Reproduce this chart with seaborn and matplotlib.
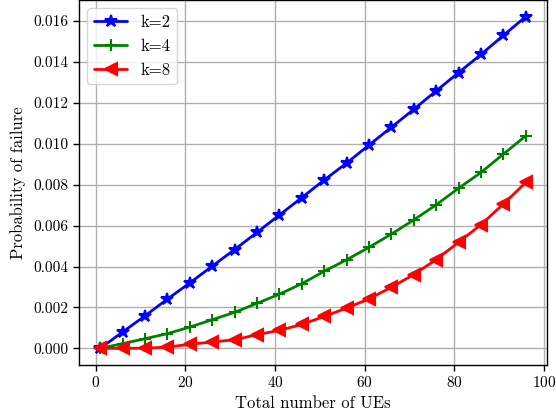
import numpy as np
import pandas as pd
import matplotlib
matplotlib.use("Agg")
import matplotlib.pyplot as plt
import seaborn as sns

ues = [1, 6, 11, 16, 21, 26, 31, 36, 41, 46, 51, 56, 61, 66, 71, 76, 81, 86, 91, 96]
k2 = [0.0, 0.00080, 0.00159, 0.00241, 0.00320, 0.00402, 0.00483, 0.00567, 0.00652, 0.00737,
      0.00823, 0.00906, 0.00994, 0.01081, 0.01169, 0.01259, 0.01348, 0.01437, 0.01530, 0.01622]
k4 = [0.0, 0.00023, 0.00047, 0.00072, 0.00104, 0.00140, 0.00176, 0.00220, 0.00265, 0.00316,
      0.00377, 0.00433, 0.00494, 0.00559, 0.00628, 0.00702, 0.00783, 0.00860, 0.00950, 0.01039]
k8 = [0.0, 0.0, 0.00001, 0.00006, 0.00020, 0.00031, 0.00042, 0.00067, 0.00088, 0.00117,
      0.00156, 0.00197, 0.00242, 0.00299, 0.00361, 0.00434, 0.00519, 0.00605, 0.00706, 0.00811]
labels = ["k=2", "k=4", "k=8"]

sns.set_theme(style="ticks")
plt.rcParams.update({
    "font.family": "serif",
    "font.serif": ["cmr10"],
    "mathtext.fontset": "cm",
    "axes.formatter.use_mathtext": True,
    "axes.unicode_minus": False,
    "axes.edgecolor": "black",
    "axes.linewidth": 1.0,
    "xtick.color": "black",
    "ytick.color": "black",
    "text.color": "black",
    "axes.labelcolor": "black",
})

fig = plt.figure(figsize=(5.56, 4.19), dpi=100)
ax = fig.add_axes([0.142, 0.129, 0.842, 0.871])

series = [(k2, "blue", "*", 9), (k4, "green", "+", 8), (k8, "red", "<", 8)]
for (vals, col, mk, ms), lab in zip(series, labels):
    sns.lineplot(x=ues, y=vals, color=col, marker=mk, markersize=ms, linewidth=2,
                 markeredgecolor=col, markeredgewidth=1.5, label=lab, ax=ax)

ax.grid(True, color="#b0b0b0", linewidth=1.0)
ax.set_xticks([0, 20, 40, 60, 80, 100])
ax.set_yticks(np.arange(0, 0.0161, 0.002))
ax.yaxis.set_major_formatter(matplotlib.ticker.FormatStrFormatter("%.3f"))
ax.tick_params(labelsize=11, direction="out", length=4, width=1)
ax.set_xlabel("Total number of UEs", fontsize=12)
ax.set_ylabel("Probability of failure", fontsize=12, labelpad=5)
ax.legend(loc="upper left", fontsize=12, frameon=True, fancybox=True, framealpha=0.8)

fig.savefig("out.png", dpi=100)
